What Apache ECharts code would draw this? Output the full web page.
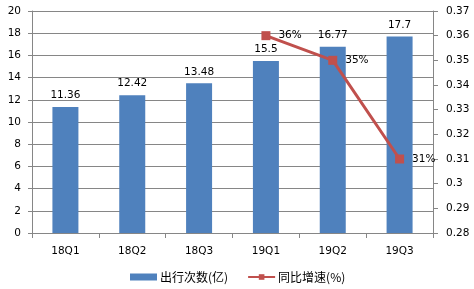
<!DOCTYPE html>
<html>
<head>
<meta charset="utf-8">
<script src="https://cdn.jsdelivr.net/npm/echarts@6/dist/echarts.min.js"></script>
<style>
html,body{margin:0;padding:0;background:#fff;}
#chart{width:474px;height:289px;}
</style>
</head>
<body>
<div id="chart"></div>
<script>
var categories = ['18Q1', '18Q2', '18Q3', '19Q1', '19Q2', '19Q3'];
var trips = [11.36, 12.42, 13.48, 15.5, 16.77, 17.7];
var growth = [null, null, null, 0.36, 0.35, 0.31];
var seriesNames = ['出行次数(亿)', '同比增速(%)'];

var axisColor = '#868686';
var txt = '#000';
var numFont = 'DejaVu Sans';
var cjkFont = 'Noto Sans CJK SC';

var chart = echarts.init(document.getElementById('chart'), null, {renderer: 'canvas'});
chart.setOption({
  animation: false,
  backgroundColor: '#fff',
  grid: {left: 32, right: 41, top: 11, bottom: 56, containLabel: false},
  legend: {
    data: [
      {name: seriesNames[0], icon: 'rect'},
      {name: seriesNames[1]}
    ],
    left: 130,
    top: 271,
    padding: 0,
    itemWidth: 27,
    itemHeight: 7,
    itemGap: 19,
    textStyle: {fontFamily: cjkFont, fontSize: 12, color: txt, padding: [0, 0, 0, -2]}
  },
  xAxis: {
    type: 'category',
    data: categories,
    axisLine: {lineStyle: {color: axisColor, width: 1}},
    axisTick: {show: true, length: 5, lineStyle: {color: axisColor}},
    axisLabel: {fontFamily: numFont, fontSize: 10.5, color: txt, margin: 13}
  },
  yAxis: [
    {
      type: 'value', min: 0, max: 20, interval: 2,
      axisLine: {show: true, lineStyle: {color: axisColor}},
      axisTick: {show: true, length: 4, lineStyle: {color: axisColor}},
      axisLabel: {fontFamily: numFont, fontSize: 10.5, color: txt, margin: 11},
      splitLine: {show: true, lineStyle: {color: axisColor, width: 1}}
    },
    {
      type: 'value', min: 0.28, max: 0.37, interval: 0.01,
      position: 'right',
      axisLine: {show: true, lineStyle: {color: axisColor}},
      axisTick: {show: true, length: 5, lineStyle: {color: axisColor}},
      axisLabel: {
        fontFamily: numFont, fontSize: 10.5, color: txt, margin: 13,
        formatter: function (v) { return String(parseFloat(v.toFixed(2))); }
      },
      splitLine: {show: false}
    }
  ],
  series: [
    {
      name: seriesNames[0],
      type: 'bar',
      data: trips,
      barWidth: 26,
      itemStyle: {color: '#4F81BD'},
      label: {
        show: true, position: 'top', distance: 6,
        fontFamily: numFont, fontSize: 10.5, color: txt
      }
    },
    {
      name: seriesNames[1],
      type: 'line',
      yAxisIndex: 1,
      data: growth,
      connectNulls: false,
      symbol: 'rect',
      symbolSize: 9,
      itemStyle: {color: '#C0504D'},
      lineStyle: {color: '#C0504D', width: 3},
      label: {
        show: true, position: 'right', distance: 8,
        fontFamily: numFont, fontSize: 10.5, color: txt,
        formatter: function (p) { return Math.round(p.value * 100) + '%'; }
      }
    }
  ]
});
</script>
</body>
</html>
